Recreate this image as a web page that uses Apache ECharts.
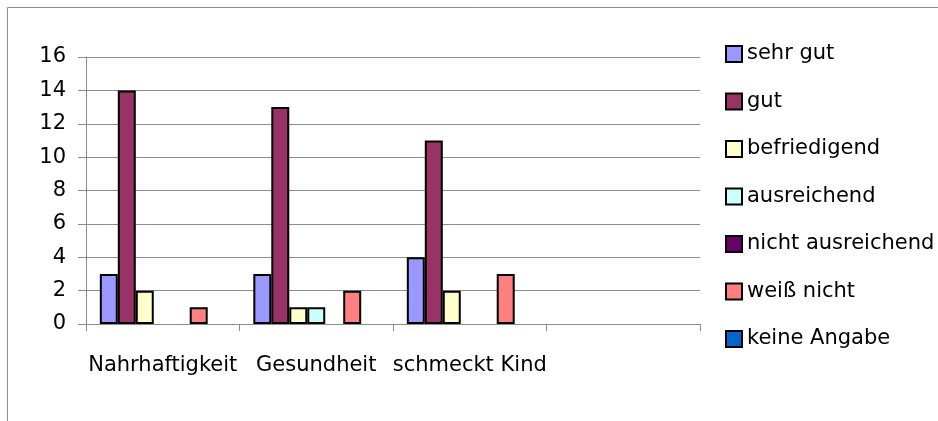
<!DOCTYPE html>
<html>
<head>
<meta charset="utf-8">
<script src="https://cdn.jsdelivr.net/npm/echarts@6/dist/echarts.min.js"></script>
<style>
html,body{margin:0;padding:0;background:#fff;}
#chart{width:938px;height:421px;}
</style>
</head>
<body>
<div id="chart"></div>
<script>
const categories = ['Nahrhaftigkeit', 'Gesundheit', 'schmeckt Kind', ''];
const seriesNames = ['sehr gut', 'gut', 'befriedigend', 'ausreichend', 'nicht ausreichend', 'weiß nicht', 'keine Angabe'];
const sehrGut = [3, 3, 4, null];
const gut = [14, 13, 11, null];
const befriedigend = [2, 1, 2, null];
const ausreichend = [0, 1, 0, null];
const nichtAusreichend = [0, 0, 0, null];
const weissNicht = [1, 2, 3, null];
const keineAngabe = [0, 0, 0, null];
const yTicks = [0, 2, 4, 6, 8, 10, 12, 14, 16];

const seriesValues = [sehrGut, gut, befriedigend, ausreichend, nichtAusreichend, weissNicht, keineAngabe];
const colors = ['#9999FF', '#993366', '#FFFFCC', '#CCFFFF', '#660066', '#FF8080', '#0066CC'];
const FONT = 'DejaVu Sans';
const gray = '#8c8c8c';

const chart = echarts.init(document.getElementById('chart'), null, {renderer: 'canvas'});
chart.setOption({
  animation: false,
  backgroundColor: '#fff',
  textStyle: {fontFamily: FONT},
  graphic: [{
    type: 'polyline',
    shape: {points: [[7.5, 421], [7.5, 7.5], [938, 7.5]]},
    style: {stroke: gray, lineWidth: 1, fill: null}
  }],
  grid: {left: 86, right: 238, top: 57, bottom: 97},
  legend: {
    orient: 'vertical',
    left: 725,
    top: 42,
    padding: 0,
    itemWidth: 16,
    itemHeight: 16,
    itemGap: 23.5,
    icon: 'rect',
    textStyle: {fontFamily: FONT, fontSize: 21, color: '#000', lineHeight: 24},
    data: seriesNames
  },
  xAxis: {
    type: 'category',
    data: categories,
    boundaryGap: true,
    axisLine: {lineStyle: {color: gray, width: 1}},
    axisTick: {show: true, length: 7, interval: 0, lineStyle: {color: gray}},
    axisLabel: {interval: 0, margin: 31, fontFamily: FONT, fontSize: 21, color: '#000'},
    splitLine: {show: false}
  },
  yAxis: {
    type: 'value',
    min: yTicks[0],
    max: yTicks[yTicks.length - 1],
    interval: 2,
    axisLine: {show: true, lineStyle: {color: gray, width: 1}},
    axisTick: {show: true, length: 8, lineStyle: {color: gray}},
    axisLabel: {margin: 20, fontFamily: FONT, fontSize: 21, color: '#000'},
    splitLine: {show: true, lineStyle: {color: gray, width: 1}}
  },
  series: seriesNames.map((name, i) => ({
    name: name,
    type: 'bar',
    data: seriesValues[i].map(v => (v === 0 ? null : v)),
    barGap: '0%',
    barCategoryGap: '18%',
    itemStyle: {color: colors[i], borderColor: '#000', borderWidth: 2}
  }))
});
</script>
</body>
</html>
